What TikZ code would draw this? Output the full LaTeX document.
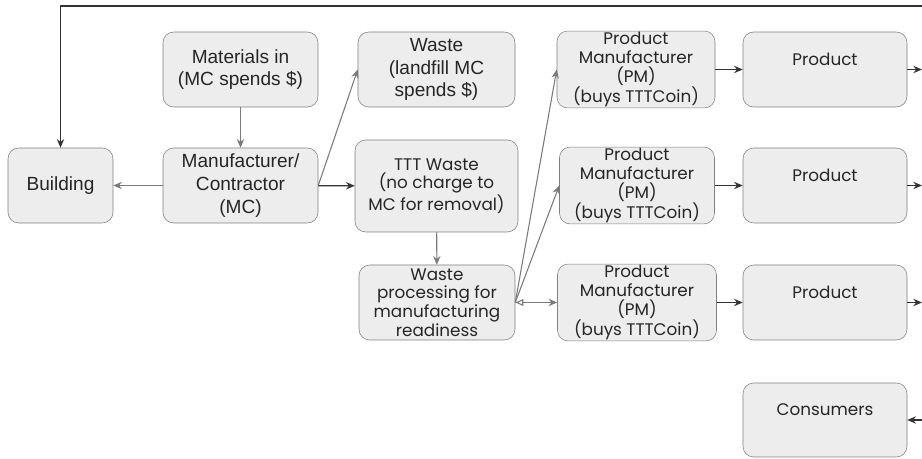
\documentclass[tikz,border=0pt]{standalone}
\usepackage{fontspec}
\setmainfont{Liberation Sans}
\newfontfamily\geo{Poppins}
\usetikzlibrary{arrows.meta}
\definecolor{boxfill}{HTML}{EDEDED}
\definecolor{boxline}{HTML}{7F7F7F}
\definecolor{darkline}{HTML}{333333}
\definecolor{greyline}{HTML}{7A7A7A}
\definecolor{txt}{HTML}{262626}
\begin{document}
\begin{tikzpicture}[x=0.75pt, y=-0.75pt, line join=round, >={Stealth[length=6.5pt,width=5.5pt]},
  box/.style={draw=boxline, fill=boxfill, rounded corners=8pt, minimum height=56.25pt,
    inner sep=1pt, align=center, text=txt, font=\fontsize{14.3}{17}\selectfont},
  geobox/.style={box, font=\geo\fontsize{12.6}{14}\selectfont},
  hi/.style={text depth=15pt},
  dk/.style={->, darkline, line width=1pt},
  gr/.style={->, greyline, line width=0.8pt}]
\useasboundingbox (0,0) rectangle (922,459);
% left part
\node[box, minimum width=78.75pt] (bld) at (60.5,185.5) {Building};
\node[box, minimum width=116.25pt] (mat) at (240.5,69.5) {Materials in\\(MC spends \$)};
\node[box, minimum width=116.25pt] (mc) at (240.5,185.5) {Manufacturer/\\Contractor\\(MC)};
% waste column
\node[box, minimum width=117.75pt] (waste) at (436.5,69.5) {Waste\\(landfill MC\\spends \$)};
\node[geobox, minimum width=122.25pt, minimum height=69pt] (ttt) at (436.5,186) {TTT Waste\\(no charge to\\MC for removal)};
\node[geobox, minimum width=117pt] (proc) at (437,302.5) {Waste\\processing for\\manufacturing\\readiness};
% product manufacturers
\node[geobox, minimum width=118.5pt] (pm1) at (636,69.5) {Product\\Manufacturer\\(PM)\\(buys TTTCoin)};
\node[geobox, minimum width=116.25pt] (pm2) at (637,185.5) {Product\\Manufacturer\\(PM)\\(buys TTTCoin)};
\node[geobox, minimum width=119.25pt] (pm3) at (637,302.5) {Product\\Manufacturer\\(PM)\\(buys TTTCoin)};
% products and consumers
\node[geobox, hi, minimum width=123pt] (prod1) at (825,69.5) {Product};
\node[geobox, hi, minimum width=123pt] (prod2) at (825,185.5) {Product};
\node[geobox, hi, minimum width=123pt] (prod3) at (825,302.5) {Product};
\node[geobox, hi, minimum width=123pt, minimum height=55.5pt] (cons) at (825,420) {Consumers};
% right edge
\coordinate (top) at (922,6);
\coordinate (e1) at (922,69.5);
\coordinate (e2) at (922,185.5);
\coordinate (e3) at (922,302.5);
\coordinate (e4) at (922,420);
\draw[dk] (top) -| (bld);
\draw[gr] (mat) -- (mc);
\draw[gr] (mc) -- (bld);
\draw[gr] (mc.east) -- (waste.west);
\draw[dk] (mc) -- (ttt);
\draw[gr] (ttt) -- (proc);
\draw[gr] (proc.east) -- (pm1.west);
\draw[gr] (proc.east) -- (pm2.west);
\draw[gr, {Triangle[open,length=6pt,width=5pt]}->] (proc.east) -- (pm3.west);
\foreach \i in {1,2,3}{
  \draw[dk] (pm\i) -- (prod\i);
  \draw[dk] (prod\i) -- (e\i);
}
\draw[dk] (e4) -- (cons);
\end{tikzpicture}
\end{document}
